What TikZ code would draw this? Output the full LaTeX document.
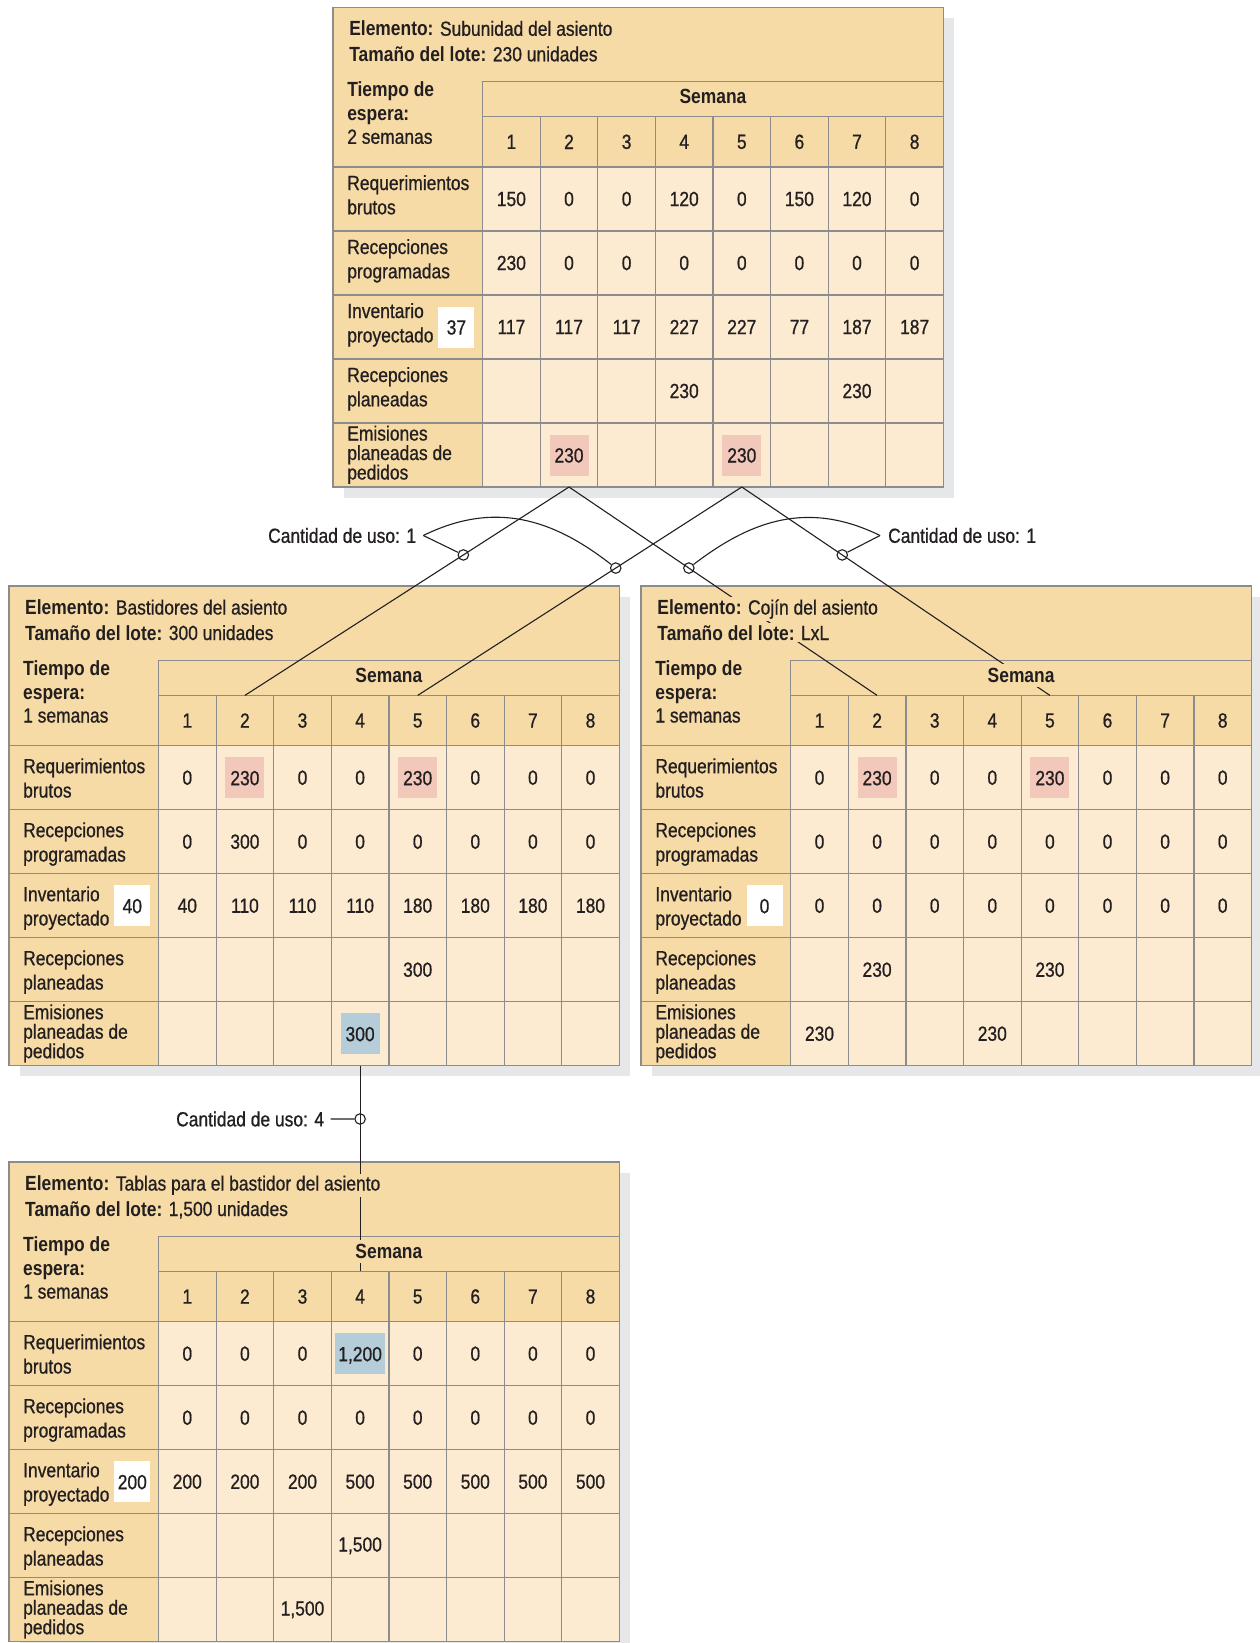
\documentclass[tikz,border=0pt]{standalone}
\usepackage{fontspec}
\setmainfont{Liberation Sans}[FakeStretch=0.85, UprightFeatures={FakeBold=0.8}]
\usepackage{xcolor}
\usepackage{tikz}
\usetikzlibrary{calc,positioning}
\definecolor{cTan}{HTML}{F7DBA7}
\definecolor{cCell}{HTML}{FCEBD1}
\definecolor{cPink}{HTML}{F2C8BB}
\definecolor{cBlue}{HTML}{B4CDD9}
\definecolor{cGrid}{HTML}{8C8C8C}
\definecolor{cShade}{HTML}{E6E7E8}
\definecolor{cInk}{HTML}{231F20}
\pgfdeclarelayer{base}
\pgfdeclarelayer{links}
\pgfsetlayers{base,links,main}
\tikzset{
  mrp/txt/.style  ={font=\fontsize{20.5}{24.3}\selectfont, text=cInk},
  mrp/cell/.style ={mrp/txt, draw=cGrid, line width=1.2, fill=cCell,
                    minimum width=57.6, minimum height=64, inner sep=0, outer sep=0},
  mrp/week/.style ={mrp/cell, fill=cTan, minimum height=50.3},
  mrp/head/.style ={mrp/cell, fill=cTan, minimum width=149.5},
  mrp/band/.style ={mrp/cell, fill=cTan, minimum width=460.8, minimum height=34.9},
  mrp/label/.style={mrp/txt, anchor=base west, inner sep=0},
  mrp/mask/.style ={mrp/txt, anchor=base west, fill=cTan, inner sep=2},
  mrp/link/.style ={draw=cInk, line width=1.1},
  mrp/ring/.style ={circle, draw=cInk, line width=1.1, inner sep=0, minimum size=10.5},
  mrp/uso/.style  ={mrp/txt, inner xsep=7, inner ysep=0}
}
% highlighted values and the starting inventory
\newcommand{\hlp}[1]{{\fboxsep=0pt\colorbox{cPink}{\makebox[39pt]{\rule[-13pt]{0pt}{41pt}#1}}}}
\newcommand{\hlb}[2][39pt]{{\fboxsep=0pt\colorbox{cBlue}{\makebox[#1]{\rule[-13pt]{0pt}{41pt}#2}}}}
\newcommand{\invbox}[1]{{\fboxsep=0pt\colorbox{white}{\makebox[36pt]{\rule[-13pt]{0pt}{41pt}#1}}}}
\newcommand{\mrplines}[2]{\parbox[t]{140pt}{\fontsize{20.5}{#2}\selectfont\raggedright #1}}
% one MRP record: id, x, y, element, lot, lead time, start inventory, rows, label shift
\newcommand{\mrptable}[9]{%
  \begin{scope}[shift={(#2,#3)}]
    \begin{pgfonlayer}{base}
      \fill[cShade] (10.5,10.5) rectangle (620.8,490.2);
      \fill[cTan] (0,0) rectangle (610.3,479.7);
      % week header
      \node[mrp/band] (#1-band) at (379.9,91.95) {};
      \foreach \ci in {1,...,8}
        \node[mrp/week] (#1-w-\ci) at ({120.7+57.6*\ci},134.55) {\ci};
      % row heads
      \foreach \lab/\off/\bs/\sh [count=\ri] in {{Requerimientos\\brutos}/27.5/24.3/1,
          {Recepciones\\programadas}/27.5/24.3/1, {Inventario\\proyectado}/27.5/24.3/1,
          {Recepciones\\planeadas}/27.5/24.3/1, {Emisiones\\planeadas de\\pedidos}/17.5/19.5/0} {
        \node[mrp/head] (#1-h-\ri) at (74.75,{127.7+64*\ri}) {};
        \node[mrp/label] (#1-rl-\ri) at (14,{95.7+64*\ri+\off+\sh*(#9)}) {\mrplines{\lab}{\bs}};
      }
      % values
      \foreach \vals [count=\ri] in {#8}
        \foreach \v [count=\ci] in \vals
          \node[mrp/cell] (#1-\ri-\ci) at ({120.7+57.6*\ci},{127.7+64*\ri}) {\v};
      \node[mrp/txt, anchor=east, inner sep=0] (#1-ini) at (141.5,319.7) {\invbox{#7}};
      \node[mrp/label] (#1-lead) at (14,89.5)
           {\mrplines{\textbf{Tiempo de}\\\textbf{espera:}\\#6}{23.5}};
      \draw[cGrid, line width=1.5] (0,0) rectangle (610.3,479.7);
    \end{pgfonlayer}
    % texts that hide the links running under them
    \node[mrp/mask] (#1-elem) at (14,28.5) {\textbf{Elemento:} #4};
    \node[mrp/mask] (#1-lote) at (14,54) {\textbf{Tamaño del lote:} #5};
    \node[mrp/mask, anchor=base, inner sep=4, font=\fontsize{20.5}{24.3}\selectfont\bfseries]
         (#1-sem) at (379.9,96.5) {Semana};
  \end{scope}}

\begin{document}
\begin{tikzpicture}[x=1pt, y=-1pt]
  \useasboundingbox (0,0) rectangle (1259,1643);
  \begin{pgfonlayer}{base}
    \fill[white] (0,0) rectangle (1259,1643);
  \end{pgfonlayer}
  % --- the four records ---
  \mrptable{top}{333.1}{7.3}{Subunidad del asiento}{230 unidades}{2 semanas}{37}
    {{150,0,0,120,0,150,120,0},{230,0,0,0,0,0,0,0},{117,117,117,227,227,77,187,187},
     {,,,230,,,230,},{,\hlp{230},,,\hlp{230},,,}}{-4.5}
  \mrptable{bas}{9}{586}{Bastidores del asiento}{300 unidades}{1 semanas}{40}
    {{0,\hlp{230},0,0,\hlp{230},0,0,0},{0,300,0,0,0,0,0,0},{40,110,110,110,180,180,180,180},
     {,,,,300,,,},{,,,\hlb{300},,,,}}{0}
  \mrptable{coj}{641.2}{586}{Cojín del asiento}{LxL}{1 semanas}{0}
    {{0,\hlp{230},0,0,\hlp{230},0,0,0},{0,0,0,0,0,0,0,0},{0,0,0,0,0,0,0,0},
     {,230,,,230,,,},{230,,,230,,,,}}{0}
  \mrptable{tab}{9}{1162}{Tablas para el bastidor del asiento}{1,500 unidades}{1 semanas}{200}
    {{0,0,0,\hlb[50pt]{1,200},0,0,0,0},{0,0,0,0,0,0,0,0},{200,200,200,500,500,500,500,500},
     {,,,{1,500},,,,},{,,{1,500},,,,,}}{0}
  % --- links between parent and components ---
  \begin{pgfonlayer}{links}
    \draw[mrp/link] (top-5-2.south) -- (bas-w-2.north);
    \draw[mrp/link] (top-5-2.south) -- (coj-w-2.north);
    \draw[mrp/link] (top-5-5.south) -- (bas-w-5.north);
    \draw[mrp/link] (top-5-5.south) -- (coj-w-5.north);
    \draw[mrp/link] (bas-5-4.south) -- (tab-w-4.north);
  \end{pgfonlayer}
  % --- usage quantities ---
  \node[mrp/ring] (ringL1) at ($(top-5-2.south)!0.326!(bas-w-2.north)$) {};
  \node[mrp/ring] (ringL2) at ($(top-5-5.south)!0.389!(bas-w-5.north)$) {};
  \node[mrp/ring] (ringR1) at ($(top-5-5.south)!0.326!(coj-w-5.north)$) {};
  \node[mrp/ring] (ringR2) at ($(top-5-2.south)!0.389!(coj-w-2.north)$) {};
  \node[mrp/ring] (ringB)  at ($(bas-5-4.south)!0.259!(tab-w-4.north)$) {};
  \node[mrp/uso, anchor=east] (usoL) at (423.3,535.5) {Cantidad de uso: 1};
  \node[mrp/uso, anchor=west, inner xsep=8] (usoR) at (880,535.5) {Cantidad de uso: 1};
  \node[mrp/uso, anchor=east, inner xsep=6.4] (usoB) at (330.7,1119) {Cantidad de uso: 4};
  \draw[mrp/link] (usoL.east) -- (ringL1);
  \draw[mrp/link] (usoL.east) .. controls +(71.3,-35) and +(-63,-49.3) .. (ringL2);
  \draw[mrp/link] (usoR.west) -- (ringR1);
  \draw[mrp/link] (usoR.west) .. controls +(-71.3,-35) and +(63,-48.4) .. (ringR2);
  \draw[mrp/link] (usoB.east) -- (ringB);
\end{tikzpicture}
\end{document}
